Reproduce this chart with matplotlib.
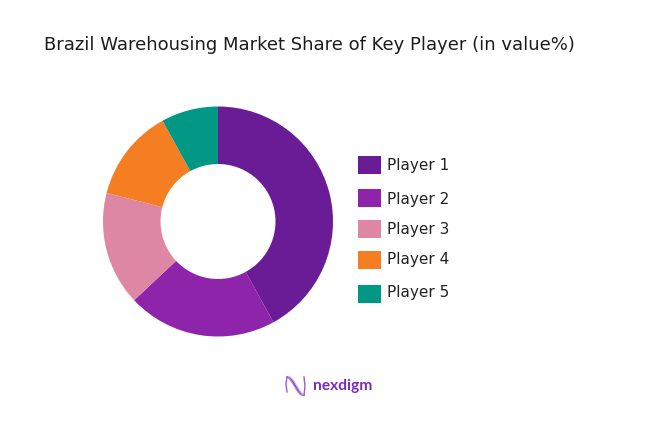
import numpy as np
from matplotlib import pyplot as plt
from matplotlib.patches import Rectangle

players = ['Player 1', 'Player 2', 'Player 3', 'Player 4', 'Player 5']
shares = [42, 21, 16, 13, 8]
colors = ['#6A1B96', '#8E24AA', '#DE87A5', '#F67E22', '#009885']

# legend rows are not evenly spaced in the original, boxes and labels differ a bit too
box_y = [164.5, 198, 229, 260, 293.5]
label_y = [165, 199, 229.5, 259, 292]

W, H = 651, 436
fig = plt.figure(figsize=(W / 100, H / 100), dpi=100, facecolor='white')

# full-figure axes in pixel coords, for the title, legend and logo
bg = fig.add_axes([0, 0, 1, 1])
bg.set_xlim(0, W)
bg.set_ylim(H, 0)
bg.axis('off')

bg.text(44, 45, 'Brazil Warehousing Market Share of Key Player (in value%)',
        family='DejaVu Sans', fontsize=13, color='#1c1c1c', va='center', ha='left')

for i, name in enumerate(players):
    bg.add_patch(Rectangle((358, box_y[i] - 9), 23, 18, fc=colors[i], ec='none'))
    bg.text(387, label_y[i], name, family='DejaVu Sans', fontsize=11, color='#222222',
            va='center', ha='left')

# donut
cx, cy, r = 218, 221.5, 115
ax = fig.add_axes([(cx - r) / W, 1 - (cy + r) / H, 2 * r / W, 2 * r / H])
ax.pie(shares, colors=colors, startangle=90, counterclock=False, radius=1,
       wedgeprops={'width': 0.5, 'linewidth': 0})
ax.set_xlim(-1, 1)
ax.set_ylim(-1, 1)

# logo mark: N shape, uprights joined by an S curve with a few faint copies
t = np.linspace(0, 1, 60)
for shift, col, lw in [(0, '#7B2CBF', 1.3), (2, '#B57EDC', 0.9), (-2, '#C9A6E8', 0.8)]:
    xs = 287 + 17 * t
    ys = 377 + 18 * (1 - np.cos(np.pi * t)) / 2 + shift * np.sin(np.pi * t)
    bg.plot(xs, ys, color=col, lw=lw, solid_capstyle='round')
bg.plot([287, 286, 287], [377, 384, 392], color='#9A5BD0', lw=1)
bg.plot([304, 305, 304], [395, 386, 377], color='#9A5BD0', lw=1)
bg.text(312.5, 385.5, 'nexdigm', family='Lato', fontsize=11.2, weight='bold', color='#7B2CBF',
        va='center', ha='left')

fig.savefig('out.png', dpi=100)
